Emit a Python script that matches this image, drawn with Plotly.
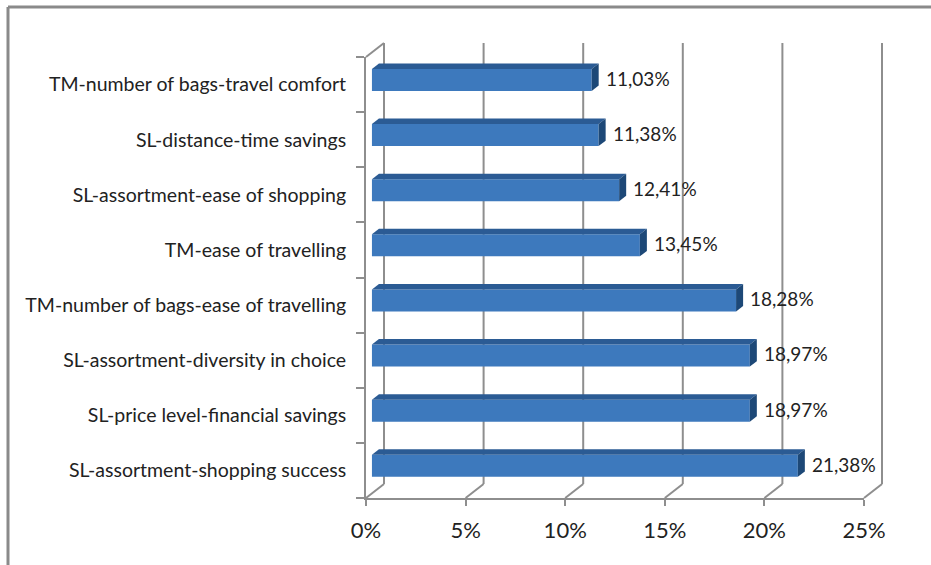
import plotly.graph_objects as go

# ---- data -------------------------------------------------------------
categories = [
    "SL-assortment-shopping success",
    "SL-price level-financial savings",
    "SL-assortment-diversity in choice",
    "TM-number of bags-ease of travelling",
    "TM-ease of travelling",
    "SL-assortment-ease of shopping",
    "SL-distance-time savings",
    "TM-number of bags-travel comfort",
]
values = [21.38, 18.97, 18.97, 18.28, 13.45, 12.41, 11.38, 11.03]
tick_values = [0, 5, 10, 15, 20, 25]
tick_labels = ["0%", "5%", "10%", "15%", "20%", "25%"]

# ---- page / plot geometry ------------------------------------------------
W, H = 931, 565
FRONT_X0, FRONT_X1 = 366, 864      # pixel span of 0..25 on the front axis
FRONT_YT, FRONT_YB = 57, 498       # pixel span of the category axis
N = len(categories)
PX = (FRONT_X1 - FRONT_X0) / 25.0  # pixels per percent
PY = (FRONT_YB - FRONT_YT) / N     # pixels per category

# oblique depth of the 3-D box, in axis units
DX = 18 / PX
DY = 14 / PY
BAR_FRONT, BAR_BACK = 0.33, 0.72   # depth fraction of the bar faces
HALF_H = 0.2                       # half bar thickness (category units)

x_range = [-FRONT_X0 / PX, (W - FRONT_X0) / PX]
y_range = [(FRONT_YB - H) / PY - 0.5, FRONT_YB / PY - 0.5]

FONT = "Lato"
TXT = "#222222"
GRID = "#8e8e8e"
FRONT_C = "#3d79bd"
TOP_C = "#2b5b94"
SIDE_C = "#1d4877"

fig = go.Figure()

fdx, fdy = BAR_FRONT * DX, BAR_FRONT * DY
bdx, bdy = BAR_BACK * DX, BAR_BACK * DY
pos = list(range(N))

# front faces of the bars
fig.add_trace(go.Bar(
    x=values, y=[p + fdy for p in pos], base=fdx, width=2 * HALF_H,
    orientation="h", marker=dict(color=FRONT_C, line=dict(width=0)),
    xaxis="x", yaxis="y", hoverinfo="skip", showlegend=False,
))

# top and side faces
for p, v in zip(pos, values):
    yt = p + fdy + HALF_H
    yb = p + fdy - HALF_H
    fig.add_trace(go.Scatter(
        x=[fdx, fdx + v, bdx + v, bdx, fdx],
        y=[yt, yt, yt + (bdy - fdy), yt + (bdy - fdy), yt],
        fill="toself", fillcolor=TOP_C, mode="lines", line=dict(width=0, color=TOP_C),
        xaxis="x", yaxis="y", hoverinfo="skip", showlegend=False,
    ))
    fig.add_trace(go.Scatter(
        x=[fdx + v, bdx + v, bdx + v, fdx + v, fdx + v],
        y=[yb, yb + (bdy - fdy), yt + (bdy - fdy), yt, yb],
        fill="toself", fillcolor=SIDE_C, mode="lines", line=dict(width=0, color=SIDE_C),
        xaxis="x", yaxis="y", hoverinfo="skip", showlegend=False,
    ))

# value labels
annotations = []
for p, v in zip(pos, values):
    annotations.append(dict(
        x=bdx + v, y=p + fdy + 0.03, xref="x", yref="y",
        text=f"{v:.2f}".replace(".", ",") + "%", showarrow=False,
        xanchor="left", yanchor="middle", xshift=5,
        font=dict(family=FONT, size=19, color=TXT),
    ))

# walls and floor of the 3-D box
shapes = []
line = dict(color=GRID, width=2)
y_floor, y_top = -0.5, N - 0.5
for u in tick_values:
    shapes.append(dict(type="line", xref="x", yref="y", layer="below",
                       x0=u + DX, x1=u + DX, y0=y_floor + DY, y1=y_top + DY, line=line))
    shapes.append(dict(type="line", xref="x", yref="y", layer="below",
                       x0=u, x1=u + DX, y0=y_floor, y1=y_floor + DY, line=line))
shapes.append(dict(type="line", xref="x", yref="y", layer="below",
                   x0=0, x1=DX, y0=y_top, y1=y_top + DY, line=line))

# outer frame
frame = dict(color="#8a8a8a", width=3)
shapes.append(dict(type="line", xref="paper", yref="paper",
                   x0=8 / W, x1=8 / W, y0=1 - 7 / H, y1=0, line=frame))
shapes.append(dict(type="line", xref="paper", yref="paper",
                   x0=8 / W, x1=1, y0=1 - 7 / H, y1=1 - 7 / H, line=frame))

# invisible trace that carries the category axis
fig.add_trace(go.Scatter(
    x=values, y=categories, mode="markers", marker=dict(opacity=0),
    xaxis="x2", yaxis="y2", hoverinfo="skip", showlegend=False,
))

fig.update_layout(
    width=W, height=H, autosize=False,
    margin=dict(l=0, r=0, t=0, b=0, pad=0, autoexpand=False),
    paper_bgcolor="white", plot_bgcolor="rgba(0,0,0,0)",
    showlegend=False,
    shapes=shapes, annotations=annotations,
    xaxis=dict(domain=[0, 1], range=x_range, visible=False, fixedrange=True,
               automargin=False),
    yaxis=dict(domain=[0, 1], range=y_range, visible=False, fixedrange=True,
               automargin=False),
    xaxis2=dict(
        domain=[FRONT_X0 / W, FRONT_X1 / W], range=[0, 25], anchor="y2",
        tickvals=tick_values, ticktext=tick_labels, showgrid=False, zeroline=False,
        showline=True, linecolor=GRID, linewidth=2, automargin=False,
        ticks="outside", ticklen=6, tickwidth=2, tickcolor=GRID,
        ticklabelstandoff=6,
        tickfont=dict(family=FONT, size=22, color=TXT),
    ),
    yaxis2=dict(
        domain=[(H - FRONT_YB) / H, (H - FRONT_YT) / H], anchor="x2",
        type="category", categoryorder="array", categoryarray=categories,
        range=[-0.5, N - 0.5], showgrid=False, zeroline=False,
        showline=True, linecolor=GRID, linewidth=2, automargin=False,
        ticks="outside", tickson="boundaries", ticklen=8, tickwidth=2, tickcolor=GRID,
        ticklabelstandoff=14,
        tickfont=dict(family=FONT, size=19.5, color=TXT),
    ),
)

fig.write_html("out.html", config={"responsive": False})
